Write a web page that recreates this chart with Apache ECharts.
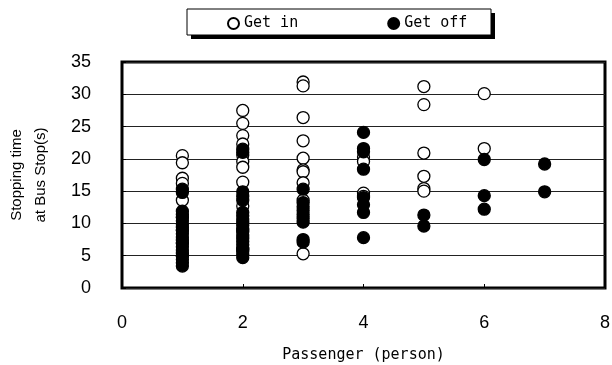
<!DOCTYPE html>
<html>
<head>
<meta charset="utf-8">
<script src="https://cdn.jsdelivr.net/npm/echarts@6/dist/echarts.min.js"></script>
<style>
  html, body {margin: 0; padding: 0; background: #fff;}
  #chart {width: 612px; height: 365px;}
</style>
</head>
<body>
<div id="chart"></div>
<script>
// passengers vs stopping time
const getInPoints = [
  [1, 20.5], [1, 19.4], [1, 17.0], [1, 16.2], [1, 13.6], [1, 11.0], [1, 9.0], [1, 7.0], [1, 5.0],
  [2, 27.5], [2, 25.5], [2, 23.6], [2, 22.3], [2, 20.6], [2, 19.6], [2, 18.7], [2, 16.4], [2, 12.7], [2, 9.0], [2, 6.0],
  [3, 31.9], [3, 31.3], [3, 26.4], [3, 22.8], [3, 20.1], [3, 18.3], [3, 18.0], [3, 16.3], [3, 13.6], [3, 5.3],
  [4, 20.3], [4, 19.6], [4, 14.7], [4, 14.2],
  [5, 31.2], [5, 28.4], [5, 20.9], [5, 17.3], [5, 15.4], [5, 15.0],
  [6, 30.1], [6, 21.6],
];
const getOffPoints = [
  [1, 15.3], [1, 14.8], [1, 11.9], [1, 11.4], [1, 10.9], [1, 10.4], [1, 9.9], [1, 9.4], [1, 8.9], [1, 8.4],
  [1, 7.9], [1, 7.4], [1, 6.9], [1, 6.4], [1, 5.9], [1, 5.4], [1, 4.9], [1, 4.4], [1, 3.9], [1, 3.4],
  [2, 21.5], [2, 21.0], [2, 14.9], [2, 14.2], [2, 13.6], [2, 11.7], [2, 11.2], [2, 10.7], [2, 10.2], [2, 9.7],
  [2, 9.2], [2, 8.7], [2, 8.2], [2, 7.7], [2, 7.2], [2, 6.7], [2, 6.2], [2, 5.7], [2, 5.2], [2, 4.7],
  [3, 15.3], [3, 13.2], [3, 12.6], [3, 12.0], [3, 11.4], [3, 10.8], [3, 10.2], [3, 7.5], [3, 7.1],
  [4, 24.1], [4, 21.6], [4, 21.1], [4, 18.4], [4, 14.0], [4, 12.9], [4, 11.7], [4, 7.8],
  [5, 11.3], [5, 9.6],
  [6, 19.9], [6, 14.3], [6, 12.2],
  [7, 19.2], [7, 14.9],
];
const seriesNames = ['Get in', 'Get off'];
const xRange = [0, 8, 2];
const yRange = [0, 35, 5];

const chart = echarts.init(document.getElementById('chart'), null, {renderer: 'canvas'});
const mono = '"DejaVu Sans Mono", "Liberation Mono", monospace';
const sans = '"Liberation Sans", Arial, sans-serif';

chart.setOption({
  animation: false,
  backgroundColor: '#fff',
  // legend frame with a hard drop shadow
  graphic: [
    {type: 'rect', shape: {x: 191, y: 13, width: 304, height: 26}, style: {fill: '#000'}, z: 1},
    {type: 'rect', shape: {x: 187, y: 9, width: 304, height: 26}, style: {fill: '#fff', stroke: '#000', lineWidth: 1}, z: 2},
  ],
  grid: {
    left: 122, right: 7, top: 62, bottom: 77,
    outerBoundsMode: 'none',
    show: true, borderColor: '#000', borderWidth: 3, backgroundColor: 'transparent',
  },
  legend: {
    data: seriesNames,
    left: 187, top: 9,
    padding: [7, 18, 7, 40],
    itemGap: 89,
    itemWidth: 11, itemHeight: 11,
    z: 5,
    textStyle: {fontFamily: mono, fontSize: 15, color: '#000'},
  },
  xAxis: {
    type: 'value',
    min: xRange[0], max: xRange[1], interval: xRange[2],
    name: 'Passenger (person)',
    nameLocation: 'middle',
    nameGap: 60,
    nameTextStyle: {fontFamily: mono, fontSize: 15, color: '#000'},
    axisLine: {show: false},
    axisTick: {show: true, inside: true, length: 4, lineStyle: {color: '#000'}},
    axisLabel: {fontFamily: sans, fontSize: 18, color: '#000', margin: 26},
    splitLine: {show: false},
  },
  yAxis: {
    type: 'value',
    min: yRange[0], max: yRange[1], interval: yRange[2],
    name: 'Stopping time\nat Bus Stop(s)',
    nameLocation: 'middle',
    nameRotate: 90,
    nameGap: 69,
    nameTextStyle: {fontFamily: sans, fontSize: 15, lineHeight: 24, color: '#000'},
    axisLine: {show: false},
    axisTick: {show: true, inside: true, length: 4, lineStyle: {color: '#000'}},
    axisLabel: {fontFamily: sans, fontSize: 18, color: '#000', margin: 31},
    splitLine: {show: true, lineStyle: {color: '#222', width: 1}},
  },
  series: [
    {
      name: seriesNames[0],
      type: 'scatter',
      symbol: 'circle',
      symbolSize: 12,
      data: getInPoints,
      itemStyle: {color: '#fff', borderColor: '#000', borderWidth: 1.3, opacity: 1},
      z: 2,
    },
    {
      name: seriesNames[1],
      type: 'scatter',
      symbol: 'circle',
      symbolSize: 12,
      data: getOffPoints,
      itemStyle: {color: '#000', borderColor: '#000', borderWidth: 1.3, opacity: 1},
      z: 3,
    },
  ],
});
</script>
</body>
</html>
